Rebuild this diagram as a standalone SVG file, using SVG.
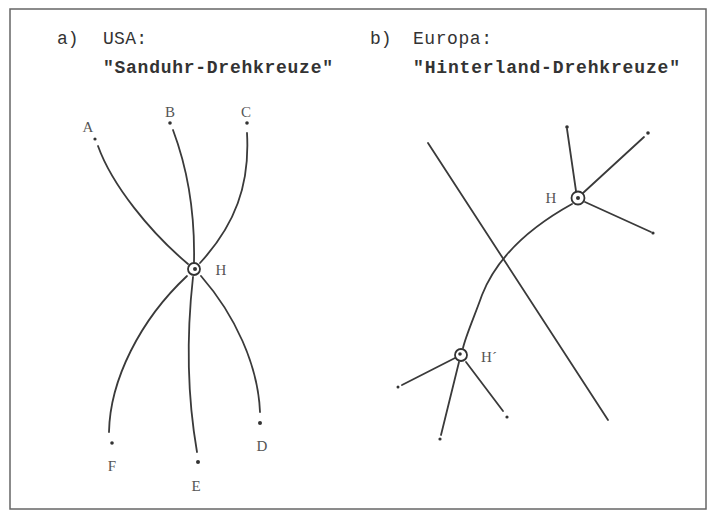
<svg xmlns="http://www.w3.org/2000/svg" width="709" height="511" viewBox="0 0 709 511">
<style>
.frame{fill:none;stroke:#666;stroke-width:1.5}
.t{font-family:"Liberation Mono","Courier New",monospace;font-size:18px;fill:#333}
.tb{font-family:"Liberation Mono","Courier New",monospace;font-size:18px;fill:#333;font-weight:bold}
.lbl{font-family:"Liberation Serif","Times New Roman",serif;font-size:15px;fill:#555;text-anchor:middle}
.c{fill:none;stroke:#3a3a3a;stroke-width:1.8;stroke-linecap:round}
.dot{fill:#333}
.hub{fill:#fff;stroke:#333;stroke-width:1.8}
</style>
<rect x="0" y="0" width="709" height="511" fill="#fff"/>
<rect class="frame" x="10" y="9" width="696" height="500"/>
<g id="titles">
<text class="t" x="57" y="44">a)</text>
<text class="t" x="103" y="44" textLength="44">USA:</text>
<text class="tb" x="103" y="73" textLength="230">"Sanduhr-Drehkreuze"</text>
<text class="t" x="370" y="44">b)</text>
<text class="t" x="413" y="44" textLength="79">Europa:</text>
<text class="tb" x="413" y="73" textLength="267">"Hinterland-Drehkreuze"</text>
</g>
<g id="connectors">
<path class="c" d="M98,146 C112,185 150,232 188,264"/>
<path class="c" d="M173,130 C188,170 195,215 194,262"/>
<path class="c" d="M247,133 C250,185 235,225 200,263"/>
<path class="c" d="M187,276 C140,320 110,380 109,432"/>
<path class="c" d="M193,277 C186,340 188,400 197,452"/>
<path class="c" d="M201,276 C235,315 258,365 260,412"/>
<path class="c" d="M428,143 L608,420"/>
<path class="c" d="M572,204 C525,230 495,262 482,295 C475,315 466,335 463,348"/>
<path class="c" d="M576,191 L567,129"/>
<path class="c" d="M583,193 L644,137"/>
<path class="c" d="M585,202 L651,232"/>
<path class="c" d="M455,358 L402,385"/>
<path class="c" d="M459,362 L441,435"/>
<path class="c" d="M466,362 L503,411"/>
</g>
<g id="node-A"><circle class="dot" cx="95" cy="139" r="1.6"/><text class="lbl" x="88" y="132">A</text></g>
<g id="node-B"><circle class="dot" cx="170" cy="123" r="1.8"/><text class="lbl" x="170" y="117">B</text></g>
<g id="node-C"><circle class="dot" cx="247" cy="123" r="1.8"/><text class="lbl" x="246" y="117">C</text></g>
<g id="node-H-left"><circle class="hub" cx="194" cy="269" r="6"/><circle class="dot" cx="195" cy="269" r="2"/><text class="lbl" x="221" y="275">H</text></g>
<g id="node-D"><circle class="dot" cx="260" cy="423" r="2"/><text class="lbl" x="262" y="451">D</text></g>
<g id="node-E"><circle class="dot" cx="198" cy="462" r="2"/><text class="lbl" x="196" y="491">E</text></g>
<g id="node-F"><circle class="dot" cx="112" cy="443" r="1.8"/><text class="lbl" x="112" y="471">F</text></g>
<g id="node-H-right"><circle class="hub" cx="578" cy="198" r="6.5"/><circle class="dot" cx="578" cy="198" r="2"/><text class="lbl" x="551" y="203">H</text></g>
<g id="node-R1"><circle class="dot" cx="567" cy="127" r="1.8"/></g>
<g id="node-R2"><circle class="dot" cx="648" cy="133" r="1.8"/></g>
<g id="node-R3"><circle class="dot" cx="653" cy="233" r="1.6"/></g>
<g id="node-H-prime"><circle class="hub" cx="461" cy="355" r="6"/><circle class="dot" cx="460" cy="354" r="1.8"/><text class="lbl" x="489" y="362">H´</text></g>
<g id="node-P1"><circle class="dot" cx="398" cy="387" r="1.5"/></g>
<g id="node-P2"><circle class="dot" cx="440" cy="439" r="1.6"/></g>
<g id="node-P3"><circle class="dot" cx="507" cy="417" r="1.6"/></g>
</svg>
